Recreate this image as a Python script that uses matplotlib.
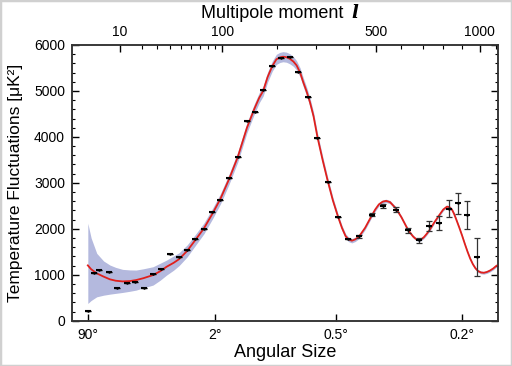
import numpy as np
import matplotlib
matplotlib.use("Agg")
import matplotlib.pyplot as plt
from matplotlib.patches import Rectangle

plt.rcParams['font.family'] = ['Liberation Sans', 'DejaVu Sans']

# ---- data ----
point_l = [2, 3, 4, 6.3, 9, 12.6, 16.6, 21.5, 26.9, 32.6, 39.6, 48.2, 55.8, 65, 75, 85.6,
           97, 110, 124, 139.7, 154, 171, 190, 210, 230, 251, 278, 303, 333, 365, 398,
           436, 482, 528, 580, 630, 680, 730, 779, 829, 880, 928, 984]
point_v = [207, 1036, 1095, 1058, 709, 811, 847, 709, 1008, 1130, 1444, 1386, 1538, 1785,
           2003, 2367, 2622, 3103, 3568, 4338, 4550, 5023, 5547, 5713, 5734, 5422, 4862,
           3967, 3015, 2258, 1785, 1837, 2309, 2505, 2418, 1968, 1750, 2062, 2127, 2440,
           2557, 2302, 1392]
point_err = [0, 0, 0, 0, 0, 0, 0, 0, 0, 0, 0, 0, 0, 0, 0, 0, 0, 0, 0, 0, 0, 0, 0, 0, 0,
             0, 0, 0, 0, 0, 0, 30, 40, 45, 50, 55, 60, 110, 145, 180, 230, 310, 410]

model_l = [2, 2.5, 3.5, 5, 6.7, 8.5, 11, 14, 17, 21, 27, 32, 37, 43, 48, 56, 65, 75, 86,
           97, 110, 124, 140, 154, 163, 171, 180, 190, 199, 207, 214, 222, 230, 239, 247,
           256, 264, 273, 282, 292, 303, 318, 333, 349, 365, 378, 390, 400, 411, 423, 436,
           458, 482, 496, 510, 525, 539, 555, 580, 603, 625, 640, 655, 667, 679, 692, 705,
           718, 732, 755, 780, 800, 819, 832, 845, 857, 869, 885, 900, 915, 930, 945, 960,
           975, 990, 1007, 1024, 1042, 1060, 1080, 1098, 1110]
model_v = [1204, 1120, 1030, 960, 900, 870, 855, 862, 884, 925, 993, 1075, 1174, 1260, 1340,
           1520, 1760, 2010, 2330, 2650, 3080, 3560, 4200, 4620, 4850, 5000, 5300, 5540,
           5688, 5730, 5745, 5735, 5701, 5640, 5557, 5400, 5194, 4990, 4759, 4450, 4000,
           3500, 3050, 2620, 2270, 2020, 1840, 1770, 1741, 1770, 1830, 2020, 2280, 2420,
           2530, 2590, 2608, 2580, 2440, 2250, 2040, 1920, 1830, 1780, 1756, 1770, 1820,
           1890, 1975, 2140, 2300, 2420, 2483, 2470, 2420, 2320, 2193, 2020, 1850, 1670,
           1501, 1350, 1230, 1140, 1080, 1050, 1043, 1060, 1090, 1135, 1189, 1215]
# cosmic-variance band: distance above / below the model curve at each model_l
band_up = [917, 680, 436, 340, 311, 290, 262, 243, 218, 205, 181, 175, 146, 150, 140,
           130, 120, 118, 115, 112, 110, 110, 110, 110, 110, 110, 110, 110, 110, 110, 110,
           110, 110, 105, 100, 100, 98, 96, 94, 92, 90, 85, 80, 70, 60, 56, 52, 50, 48, 46,
           45, 42, 40, 40, 38, 38, 36, 36, 35, 34, 33, 32, 32, 31, 30, 30, 30, 30, 30, 30,
           30, 30, 30, 30, 30, 30, 30, 30, 30, 30, 30, 30, 30, 30, 30, 30, 30, 30, 30, 30,
           30, 30]
band_dn = [829, 680, 510, 405, 322, 275, 240, 222, 219, 210, 218, 195, 181, 160, 140,
           130, 120, 118, 115, 112, 110, 110, 110, 110, 110, 110, 110, 110, 110, 110, 110,
           110, 110, 105, 100, 100, 98, 96, 94, 92, 90, 85, 80, 70, 60, 56, 52, 50, 48, 46,
           45, 42, 40, 40, 38, 38, 36, 36, 35, 34, 33, 32, 32, 31, 30, 30, 30, 30, 30, 30,
           30, 30, 30, 30, 30, 30, 30, 30, 30, 30, 30, 30, 30, 30, 30, 30, 30, 30, 30, 30,
           30, 30]

top_ticks = [10, 100, 500, 1000]
top_minor = [20, 30, 40, 50, 60, 70, 80, 90, 200, 300, 400, 600, 700, 800, 900, 1100]
angle_l = [2, 90, 360, 900]
angle_labels = ['90°', '2°', '0.5°', '0.2°']


def fwd(x):
    x = np.asarray(x, dtype=float)
    return np.sign(x) * np.abs(x) ** 0.4


def inv(y):
    y = np.asarray(y, dtype=float)
    return np.sign(y) * np.abs(y) ** 2.5


fig = plt.figure(figsize=(5.12, 3.66), dpi=100)
ax = fig.add_axes([72 / 512, 1 - 320.7 / 366, 426 / 512, 275.7 / 366])
ax.set_xscale('function', functions=(fwd, inv))
xlim = (0.46, 1110)
ax.set_xlim(*xlim)
ax.set_ylim(0, 6000)

mv = np.array(model_v, dtype=float)
ax.fill_between(model_l, mv - np.array(band_dn), mv + np.array(band_up),
                color='#b4b9de', lw=0, zorder=1)
ax.plot(model_l, model_v, color='#e0201c', lw=1.3, zorder=3)
ax.errorbar(point_l, point_v, yerr=point_err, fmt='none', ecolor='#333333',
            elinewidth=0.9, capsize=2.5, capthick=0.9, zorder=4)
ax.plot(point_l, point_v, ls='none', marker='_', ms=4.5, mew=1.5, color='black', zorder=5)
ax.plot(point_l, point_v, ls='none', marker='o', ms=1.8, mew=0, color='black', zorder=5)

# bottom axis: angular size
ax.set_xticks(angle_l)
ax.set_xticklabels(angle_labels)
ax.xaxis.set_minor_locator(matplotlib.ticker.NullLocator())
ax.tick_params(axis='x', which='major', direction='in', length=5, width=1.0,
               labelsize=10, pad=5, top=False)
ax.set_xlabel('Angular Size', fontsize=13, labelpad=2)

# y axis
ax.set_yticks(np.arange(0, 6001, 1000))
ax.yaxis.set_minor_locator(matplotlib.ticker.MultipleLocator(200))
ax.tick_params(axis='y', which='major', direction='in', length=5, width=1.0,
               labelsize=10, right=True, pad=5)
ax.tick_params(axis='y', which='minor', direction='in', length=2.5, width=0.8, right=True)
ax.set_ylabel('Temperature Fluctuations [μK²]', fontsize=12.5, labelpad=8)

# top axis: multipole moment
ax2 = ax.twiny()
ax2.set_xscale('function', functions=(fwd, inv))
ax2.set_xlim(*xlim)
ax2.set_xticks(top_ticks)
ax2.set_xticklabels([str(t) for t in top_ticks])
ax2.set_xticks(top_minor, minor=True)
ax2.xaxis.set_minor_formatter(matplotlib.ticker.NullFormatter())
ax2.tick_params(axis='x', which='major', direction='in', length=5, width=1.0,
                labelsize=10, pad=4)
ax2.tick_params(axis='x', which='minor', direction='in', length=3, width=0.8)

for a in (ax, ax2):
    for s in a.spines.values():
        s.set_color('#333333')
        s.set_linewidth(1.1)

fig.text(272 / 512, 1 - 14 / 366, 'Multipole moment', fontsize=13, ha='center', va='center')
fig.text(355 / 512, 1 - 13 / 366, 'l', fontsize=13, ha='center', va='center',
         style='italic', weight='bold', family='DejaVu Serif')

fig.patches.append(Rectangle((0, 0), 1, 1, transform=fig.transFigure, fill=False,
                             edgecolor='#d0d0d0', lw=2.5))

fig.savefig('out.png', dpi=100)
